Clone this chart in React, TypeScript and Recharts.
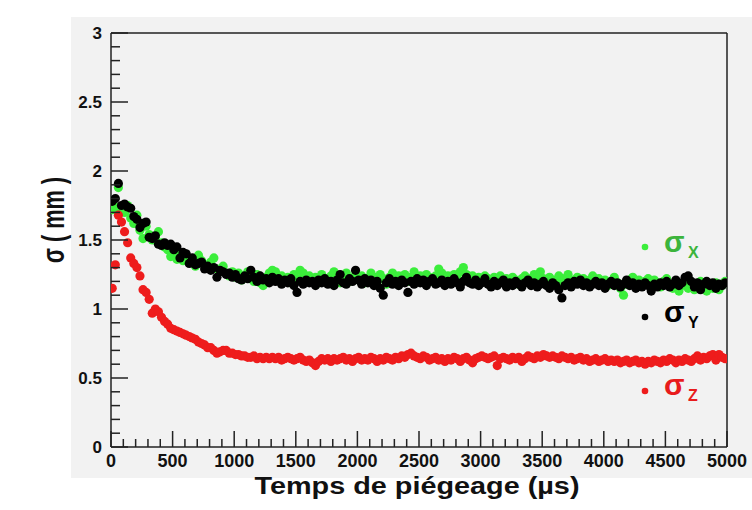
import React from 'react';
import { ScatterChart, Scatter, XAxis, YAxis, ReferenceLine } from 'recharts';

// Time of each sample (µs)
const TIMES = [
  10, 35, 60, 85, 110, 135, 160, 185, 210, 235, 260, 285, 310, 335, 360, 385, 410, 435, 460, 485,
  510, 535, 560, 585, 610, 635, 660, 685, 710, 735, 760, 785, 810, 835, 860, 885, 910, 935, 960, 985,
  1010, 1035, 1060, 1085, 1110, 1135, 1160, 1185, 1210, 1235, 1260, 1285, 1310, 1335, 1360, 1385, 1410, 1435, 1460, 1485,
  1510, 1535, 1560, 1585, 1610, 1635, 1660, 1685, 1710, 1735, 1760, 1785, 1810, 1835, 1860, 1885, 1910, 1935, 1960, 1985,
  2010, 2035, 2060, 2085, 2110, 2135, 2160, 2185, 2210, 2235, 2260, 2285, 2310, 2335, 2360, 2385, 2410, 2435, 2460, 2485,
  2510, 2535, 2560, 2585, 2610, 2635, 2660, 2685, 2710, 2735, 2760, 2785, 2810, 2835, 2860, 2885, 2910, 2935, 2960, 2985,
  3010, 3035, 3060, 3085, 3110, 3135, 3160, 3185, 3210, 3235, 3260, 3285, 3310, 3335, 3360, 3385, 3410, 3435, 3460, 3485,
  3510, 3535, 3560, 3585, 3610, 3635, 3660, 3685, 3710, 3735, 3760, 3785, 3810, 3835, 3860, 3885, 3910, 3935, 3960, 3985,
  4010, 4035, 4060, 4085, 4110, 4135, 4160, 4185, 4210, 4235, 4260, 4285, 4310, 4335, 4360, 4385, 4410, 4435, 4460, 4485,
  4510, 4535, 4560, 4585, 4610, 4635, 4660, 4685, 4710, 4735, 4760, 4785, 4810, 4835, 4860, 4885, 4910, 4935, 4960, 4985,
];

// sigma X (green)
const SIGMA_X = [
  1.72, 1.74, 1.88, 1.72, 1.70, 1.75, 1.66, 1.62, 1.68, 1.57, 1.51, 1.60, 1.54, 1.50, 1.52, 1.56, 1.48, 1.45, 1.43, 1.38,
  1.42, 1.36, 1.39, 1.35, 1.38, 1.34, 1.36, 1.31, 1.39, 1.35, 1.32, 1.30, 1.34, 1.37, 1.29, 1.27, 1.31, 1.26, 1.24, 1.27,
  1.23, 1.26, 1.21, 1.24, 1.27, 1.22, 1.20, 1.25, 1.19, 1.17, 1.23, 1.26, 1.28, 1.27, 1.21, 1.24, 1.20, 1.23, 1.19, 1.25,
  1.22, 1.28, 1.26, 1.21, 1.24, 1.20, 1.23, 1.19, 1.25, 1.22, 1.20, 1.24, 1.27, 1.21, 1.19, 1.23, 1.26, 1.20, 1.22, 1.25,
  1.21, 1.24, 1.19, 1.22, 1.26, 1.23, 1.20, 1.25, 1.22, 1.18, 1.23, 1.26, 1.21, 1.24, 1.22, 1.25, 1.20, 1.23, 1.27, 1.22,
  1.24, 1.21, 1.25, 1.23, 1.20, 1.24, 1.29, 1.26, 1.22, 1.24, 1.21, 1.25, 1.23, 1.27, 1.30, 1.25, 1.22, 1.24, 1.21, 1.23,
  1.20, 1.24, 1.22, 1.19, 1.23, 1.21, 1.24, 1.20, 1.22, 1.19, 1.23, 1.21, 1.18, 1.22, 1.24, 1.20, 1.22, 1.25, 1.23, 1.27,
  1.22, 1.20, 1.23, 1.19, 1.21, 1.24, 1.20, 1.22, 1.25, 1.21, 1.19, 1.23, 1.20, 1.22, 1.18, 1.21, 1.24, 1.20, 1.22, 1.19,
  1.21, 1.17, 1.20, 1.23, 1.19, 1.15, 1.10, 1.18, 1.21, 1.23, 1.19, 1.21, 1.17, 1.20, 1.22, 1.18, 1.21, 1.19, 1.16, 1.20,
  1.22, 1.18, 1.15, 1.19, 1.13, 1.17, 1.20, 1.15, 1.18, 1.14, 1.17, 1.20, 1.16, 1.13, 1.17, 1.15, 1.19, 1.14, 1.17, 1.20,
];

// sigma Y (black)
const SIGMA_Y = [
  1.78, 1.80, 1.91, 1.75, 1.76, 1.74, 1.73, 1.67, 1.65, 1.59, 1.62, 1.63, 1.52, 1.51, 1.53, 1.47, 1.46, 1.48, 1.46, 1.47,
  1.43, 1.45, 1.37, 1.41, 1.40, 1.33, 1.37, 1.32, 1.33, 1.34, 1.29, 1.31, 1.28, 1.30, 1.23, 1.28, 1.27, 1.25, 1.26, 1.23,
  1.25, 1.22, 1.21, 1.24, 1.22, 1.28, 1.23, 1.20, 1.24, 1.21, 1.22, 1.19, 1.23, 1.20, 1.22, 1.18, 1.21, 1.19, 1.22, 1.17,
  1.12, 1.20, 1.18, 1.21, 1.19, 1.20, 1.17, 1.21, 1.19, 1.22, 1.18, 1.20, 1.17, 1.21, 1.25, 1.19, 1.18, 1.22, 1.20, 1.28,
  1.21, 1.18, 1.22, 1.19, 1.21, 1.17, 1.20, 1.15, 1.10, 1.19, 1.22, 1.18, 1.20, 1.17, 1.21, 1.19, 1.12, 1.20, 1.18, 1.22,
  1.19, 1.21, 1.17, 1.20, 1.22, 1.18, 1.19, 1.21, 1.17, 1.20, 1.18, 1.22, 1.19, 1.16, 1.20, 1.23, 1.19, 1.18, 1.21, 1.17,
  1.19, 1.22, 1.18, 1.16, 1.20, 1.17, 1.19, 1.21, 1.16, 1.19, 1.17, 1.20, 1.18, 1.16, 1.19, 1.21, 1.17, 1.19, 1.16, 1.18,
  1.20, 1.17, 1.15, 1.19, 1.17, 1.14, 1.08, 1.17, 1.19, 1.16, 1.20, 1.18, 1.21, 1.17, 1.19, 1.16, 1.18, 1.20, 1.17, 1.19,
  1.15, 1.18, 1.20, 1.17, 1.19, 1.16, 1.18, 1.21, 1.17, 1.19, 1.15, 1.18, 1.16, 1.19, 1.17, 1.13, 1.18, 1.16, 1.19, 1.17,
  1.20, 1.16, 1.18, 1.21, 1.17, 1.19, 1.23, 1.24, 1.20, 1.16, 1.19, 1.14, 1.18, 1.20, 1.17, 1.19, 1.15, 1.18, 1.17, 1.19,
];

// sigma Z (red)
const SIGMA_Z = [
  1.15, 1.32, 1.68, 1.63, 1.56, 1.48, 1.37, 1.33, 1.30, 1.24, 1.14, 1.12, 1.07, 0.97, 1.00, 0.98, 0.94, 0.91, 0.89, 0.86,
  0.85, 0.84, 0.83, 0.82, 0.81, 0.80, 0.79, 0.78, 0.76, 0.75, 0.74, 0.72, 0.72, 0.70, 0.68, 0.69, 0.70, 0.70, 0.68, 0.68,
  0.67, 0.67, 0.66, 0.66, 0.65, 0.65, 0.66, 0.64, 0.65, 0.64, 0.65, 0.64, 0.65, 0.64, 0.65, 0.63, 0.64, 0.65, 0.64, 0.63,
  0.64, 0.65, 0.63, 0.62, 0.63, 0.61, 0.59, 0.62, 0.64, 0.63, 0.64, 0.62, 0.64, 0.63, 0.64, 0.65, 0.63, 0.64, 0.62, 0.64,
  0.65, 0.63, 0.64, 0.63, 0.65, 0.64, 0.62, 0.64, 0.63, 0.65, 0.64, 0.63, 0.65, 0.64, 0.66, 0.65, 0.67, 0.68, 0.66, 0.65,
  0.64, 0.66, 0.65, 0.63, 0.64, 0.65, 0.63, 0.64, 0.62, 0.64, 0.63, 0.65, 0.64, 0.62, 0.64, 0.65, 0.63, 0.61, 0.64, 0.65,
  0.66, 0.65, 0.64, 0.65, 0.66, 0.59, 0.64, 0.65, 0.64, 0.63, 0.65, 0.64, 0.65, 0.62, 0.64, 0.66, 0.65, 0.64, 0.66, 0.65,
  0.67, 0.66, 0.65, 0.66, 0.65, 0.64, 0.66, 0.65, 0.64, 0.65, 0.63, 0.64, 0.65, 0.63, 0.64, 0.62, 0.63, 0.64, 0.62, 0.63,
  0.64, 0.62, 0.63, 0.62, 0.63, 0.61, 0.62, 0.63, 0.61, 0.62, 0.63, 0.61, 0.62, 0.60, 0.62, 0.61, 0.63, 0.62, 0.61, 0.63,
  0.62, 0.64, 0.63, 0.61, 0.63, 0.62, 0.64, 0.63, 0.62, 0.64, 0.66, 0.63, 0.65, 0.64, 0.66, 0.67, 0.63, 0.67, 0.65, 0.64,
];

const X_MAJOR_TICKS = [0, 500, 1000, 1500, 2000, 2500, 3000, 3500, 4000, 4500, 5000];
const Y_MAJOR_TICKS = [0, 0.5, 1, 1.5, 2, 2.5, 3];
const X_TITLE = 'Temps de piégeage (µs)';
const Y_TITLE = 'σ ( mm )';
const LEGEND = [
  { name: 'σ', sub: 'X', dot: '#3bee3b', text: '#3cb43c' },
  { name: 'σ', sub: 'Y', dot: '#000000', text: '#000000' },
  { name: 'σ', sub: 'Z', dot: '#ee1c1c', text: '#e81c1c' },
];

const X_TICKS: number[] = [];
for (let i = 0; i < X_MAJOR_TICKS.length - 1; i++) {
  for (let k = 0; k < 5; k++) X_TICKS.push(X_MAJOR_TICKS[i] + (k * (X_MAJOR_TICKS[i + 1] - X_MAJOR_TICKS[i])) / 5);
}
X_TICKS.push(X_MAJOR_TICKS[X_MAJOR_TICKS.length - 1]);
const Y_TICKS: number[] = [];
for (let i = 0; i < Y_MAJOR_TICKS.length - 1; i++) {
  for (let k = 0; k < 5; k++) Y_TICKS.push(+(Y_MAJOR_TICKS[i] + (k * (Y_MAJOR_TICKS[i + 1] - Y_MAJOR_TICKS[i])) / 5).toFixed(2));
}
Y_TICKS.push(Y_MAJOR_TICKS[Y_MAJOR_TICKS.length - 1]);

const green = TIMES.map((t, i) => ({ t, v: SIGMA_X[i] }));
const black = TIMES.map((t, i) => ({ t, v: SIGMA_Y[i] }));
const red = TIMES.map((t, i) => ({ t, v: SIGMA_Z[i] }));

const FONT = '"Liberation Sans", Arial, Helvetica, sans-serif';
const AXIS = '#222';

const XTick = (props: any) => {
  const { x, y, payload } = props;
  const v = payload.value;
  const major = X_MAJOR_TICKS.includes(v);
  return (
    <g>
      <line x1={x} x2={x} y1={y} y2={y - (major ? 16 : 8)} stroke={AXIS} strokeWidth={1.5} />
      {major && (
        <text x={x} y={y + 20} textAnchor="middle" fontFamily={FONT} fontWeight="bold" fontSize={18} fill="#111">
          {v}
        </text>
      )}
    </g>
  );
};

const YTick = (props: any) => {
  const { x, y, payload } = props;
  const v = payload.value;
  const major = Y_MAJOR_TICKS.includes(v);
  return (
    <g>
      <line x1={x} x2={x + (major ? 17 : 9)} y1={y} y2={y} stroke={AXIS} strokeWidth={1.5} />
      {major && (
        <text x={x - 9} y={y} dy="0.36em" textAnchor="end" fontFamily={FONT} fontWeight="bold" fontSize={17} fill="#111">
          {v}
        </text>
      )}
    </g>
  );
};

const dotShape = (color: string) => (props: any) => (
  <circle cx={props.cx} cy={props.cy} r={4.6} fill={color} />
);

export default function App() {
  return (
    <div style={{ position: 'absolute', left: 0, top: 0, width: 752, height: 510, background: '#fff', overflow: 'hidden' }}>
      <div style={{ position: 'absolute', left: 71, top: 17, width: 681, height: 461, background: '#f2f2f2' }} />
      <div style={{ position: 'absolute', left: 0, top: 0 }}>
        <ScatterChart width={752} height={510} margin={{ top: 33, right: 25, bottom: 0, left: 0 }}>
          <XAxis
            type="number"
            dataKey="t"
            domain={[0, 5000]}
            ticks={X_TICKS}
            interval={0}
            height={63}
            tickSize={0}
            tickMargin={0}
            tickLine={false}
            tick={<XTick />}
            axisLine={{ stroke: AXIS, strokeWidth: 1.5 }}
            allowDataOverflow
          />
          <YAxis
            type="number"
            dataKey="v"
            domain={[0, 3]}
            ticks={Y_TICKS}
            interval={0}
            width={111}
            tickSize={0}
            tickMargin={0}
            tickLine={false}
            tick={<YTick />}
            axisLine={{ stroke: AXIS, strokeWidth: 1.5 }}
            allowDataOverflow
          />
          <ReferenceLine y={3} stroke={AXIS} strokeWidth={1.5} />
          <ReferenceLine x={5000} stroke={AXIS} strokeWidth={1.5} />
          <Scatter data={green} fill={LEGEND[0].dot} shape={dotShape(LEGEND[0].dot)} isAnimationActive={false} />
          <Scatter data={black} fill={LEGEND[1].dot} shape={dotShape(LEGEND[1].dot)} isAnimationActive={false} />
          <Scatter data={red} fill={LEGEND[2].dot} shape={dotShape(LEGEND[2].dot)} isAnimationActive={false} />
        </ScatterChart>
      </div>
      <svg width={752} height={510} style={{ position: 'absolute', left: 0, top: 0, pointerEvents: 'none' }}>
        <text
          x={0}
          y={0}
          transform="translate(64,220) rotate(-90)"
          textAnchor="middle"
          fontFamily={FONT}
          fontWeight="bold"
          fontSize={31}
          textLength={86}
          lengthAdjust="spacingAndGlyphs"
          fill="#111"
        >
          {Y_TITLE}
        </text>
        <text
          x={417}
          y={494}
          textAnchor="middle"
          fontFamily={FONT}
          fontWeight="bold"
          fontSize={23}
          textLength={325}
          lengthAdjust="spacingAndGlyphs"
          fill="#111"
        >
          {X_TITLE}
        </text>
        {LEGEND.map((l, i) => {
          const dotY = [247, 317, 391][i];
          const base = [252, 322, 395][i];
          return (
            <g key={l.sub}>
              <circle cx={645} cy={dotY} r={3.3} fill={l.dot} />
              <text x={664} y={base} fontFamily={FONT} fontWeight="bold" fontSize={30} fill={l.text}>
                {l.name}
              </text>
              <text x={688} y={base + 6} fontFamily={FONT} fontWeight="bold" fontSize={16} fill={l.text}>
                {l.sub}
              </text>
            </g>
          );
        })}
      </svg>
    </div>
  );
}
